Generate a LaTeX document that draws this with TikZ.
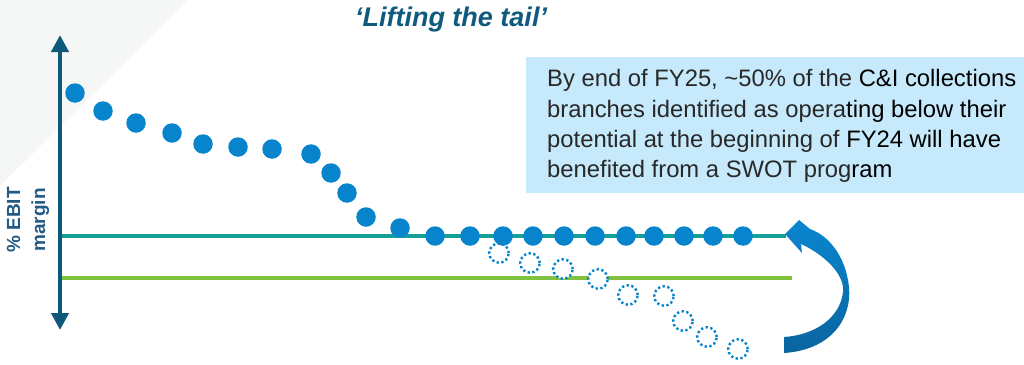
\documentclass[tikz,border=0pt]{standalone}
\usepackage{fontspec}
\setmainfont{Liberation Sans}
\usetikzlibrary{arrows.meta}
\definecolor{axisblue}{RGB}{14,88,124}
\definecolor{titleblue}{RGB}{16,90,126}
\definecolor{labelblue}{RGB}{34,90,134}
\definecolor{dotblue}{RGB}{8,132,204}
\definecolor{tealline}{RGB}{22,160,154}
\definecolor{greenline}{RGB}{128,194,64}
\definecolor{boxblue}{RGB}{198,233,251}
\definecolor{bgtri}{RGB}{244,247,245}
\definecolor{txtgray}{RGB}{40,40,40}
\definecolor{arrowtop}{RGB}{10,134,206}
\definecolor{arrowbot}{RGB}{10,100,160}
\begin{document}
\begin{tikzpicture}[x=1pt,y=-1pt,
  dot/.style={circle,fill=dotblue,inner sep=0pt,minimum size=19.5pt},
  ghost/.style={circle,draw=dotblue,fill=white,line width=2.4pt,dash pattern=on 2.3pt off 2.5pt,inner sep=0pt,minimum size=19.5pt},
  boxtext/.style={anchor=base west,inner sep=0pt,font=\fontsize{23.8}{31}\selectfont,text=txtgray}]
\useasboundingbox (0,0) rectangle (1024,364);
% background
\fill[bgtri] (0,0) -- (188,0) -- (0,186) -- cycle;
\fill[boxblue] (526,57) rectangle (1024,193);
% reference lines
\coordinate (tealA) at (60,236);
\coordinate (tealB) at (786,236);
\coordinate (greenA) at (60,278);
\coordinate (greenB) at (792,278);
\draw[tealline,line width=4.5pt] (tealA) -- (tealB);
\draw[greenline,line width=4.5pt] (greenA) -- (greenB);
% axis
\coordinate (axtop) at (60,35);
\coordinate (axbot) at (60,330);
\draw[axisblue,line width=4.5pt,{Triangle[width=17pt,length=17pt]}-{Triangle[width=17pt,length=17pt]}] (axtop) -- (axbot);
% dotted circles
\foreach \x/\y [count=\i] in {499/253,530/263,563/269,598/279,628/295,664/296,683/321,707/337,738/349}
  \node[ghost] (g\i) at (\x,\y) {};
% solid dots
\foreach \x/\y [count=\i] in {75/93,103/111,136/123,172/133,203/144,238/147,272/149,311/154,331/173,347/193,366/217,400/228,435/236,470/236,503/236,533/236,564/236,595/236,626/236,654/236,684/236,713/236,743/236}
  \node[dot] (d\i) at (\x,\y) {};
% curved arrow
\shade[top color=arrowtop,bottom color=arrowbot]
  (784,337) -- (784,353) .. controls (830,350) and (852,320) .. (849,287)
  .. controls (846,258) and (830,236) .. (810,229) -- (799,220) -- (785,234) -- (802,253) -- (801,244)
  .. controls (825,255) and (845,275) .. (843,292)
  .. controls (840,318) and (815,335) .. (784,337) -- cycle;
% texts
\node[anchor=base,inner sep=0pt,font=\bfseries\itshape\fontsize{27}{30}\selectfont,text=titleblue] (title) at (451,27) {‘Lifting the tail’};
\node[rotate=90,align=center,font=\bfseries\fontsize{19}{25}\selectfont,text=labelblue] (ylab) at (28,220) {\% EBIT\\margin};
\node[boxtext] (t1) at (547,86) {By end of FY25, \textasciitilde50\% of the \textcolor{black}{C\&I collections}};
\node[boxtext] (t2) at (547,117) {branches identified as opera\textcolor{black}{ting below their}};
\node[boxtext] (t3) at (547,147) {potential at the beginning of \textcolor{black}{FY24 will have}};
\node[boxtext] (t4) at (547,177) {benefited from a SWOT prog\textcolor{black}{ram}};
\end{tikzpicture}
\end{document}
